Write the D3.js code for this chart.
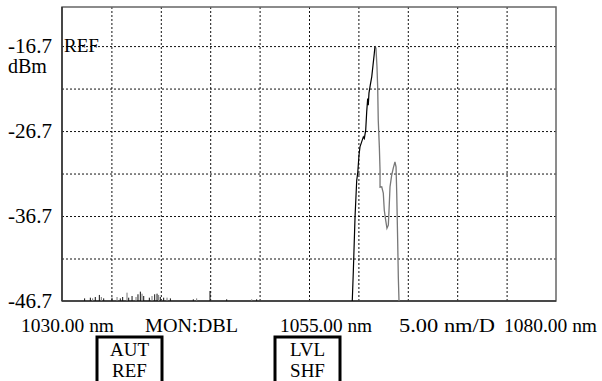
<!DOCTYPE html>
<html>
<head>
<meta charset="utf-8">
<script src="https://cdn.jsdelivr.net/npm/d3@7"></script>
<style>
  body { margin: 0; background: #fff; }
  svg { display: block; }
  text { font-family: "Liberation Serif", "Times New Roman", serif; fill: #000; }
</style>
</head>
<body>
<svg id="chart" width="602" height="381"></svg>
<script>
// spectrum trace (nm, dBm), black rising edge up to the peak
const riseNm = [1059.38, 1059.48, 1059.66, 1059.83, 1059.93, 1060.06, 1060.16, 1060.33, 1060.50, 1060.60,
  1060.74, 1060.84, 1060.94, 1061.00, 1061.07, 1061.20, 1061.35, 1061.48, 1061.61, 1061.68];
const riseDb = [-46.7, -43.44, -36.8, -32.5, -31.66, -29.54, -28.56, -27.97, -27.38, -27.57,
  -26.59, -24.44, -22.86, -23.65, -22.24, -21.29, -20.32, -18.94, -17.56, -16.7];
// grey falling edge from the peak
const fallNm = [1061.68, 1061.78, 1061.88, 1061.95, 1062.01, 1062.12, 1062.19, 1062.19, 1062.36, 1062.52,
  1062.62, 1062.76, 1062.89, 1063.03, 1063.10, 1063.20, 1063.37, 1063.53, 1063.70, 1063.81,
  1063.88, 1063.98, 1064.04, 1064.11];
const fallDb = [-16.7, -16.97, -19.14, -21.49, -25.42, -28.56, -31.31, -33.31, -33.27, -34.01,
  -36.02, -37.19, -38.14, -37.78, -36.02, -33.27, -31.89, -31.07, -30.33, -30.92,
  -34.01, -39.9, -43.87, -46.7];
// noise spikes near the floor
const noiseNm = [1032.29, 1032.87, 1033.10, 1033.37, 1033.78, 1033.98, 1034.22, 1035.06, 1035.57, 1035.90,
  1036.14, 1036.58, 1036.75, 1037.09, 1037.49, 1037.69, 1037.93, 1038.10, 1038.27, 1038.84,
  1039.11, 1039.38, 1039.62, 1039.78, 1039.95, 1040.29, 1040.63, 1040.97, 1043.29, 1043.63,
  1044.98, 1046.67, 1049.2, 1049.7];
const noiseDb = [-46.39, -46.31, -46.39, -46.23, -45.99, -46.23, -46.39, -46.31, -46.23, -46.39,
  -46.23, -45.72, -46.31, -46.11, -46.23, -45.91, -45.6, -45.84, -46.11, -46.31,
  -46.11, -45.91, -45.84, -45.99, -46.23, -46.31, -46.31, -46.39, -46.5, -46.39,
  -45.52, -46.5, -46.5, -46.5];

const xDomain = [1030, 1080];
const yDomain = [-46.7, -12.1];
const nmStep = 5;
const dbStep = 5;
const yLabels = ["-16.7", "-26.7", "-36.7", "-46.7"];
const footerLabels = ["1030.00 nm", "MON:DBL", "1055.00 nm", "5.00 nm/D", "1080.00 nm"];
const softKeys = [["AUT", "REF"], ["LVL", "SHF"]];

const svg = d3.select("#chart");
const plot = { left: 62, right: 556, top: 7, bottom: 301 };

const x = d3.scaleLinear().domain(xDomain).range([plot.left, plot.right]);
const y = d3.scaleLinear().domain(yDomain).range([plot.bottom, plot.top]);

const xGrid = d3.range(xDomain[0] + nmStep, xDomain[1], nmStep);
const yGrid = d3.range(yDomain[0] + dbStep, -16.6, dbStep);

// dotted grid
svg.append("g")
  .attr("transform", `translate(0,${plot.bottom})`)
  .call(d3.axisBottom(x).tickValues(xGrid).tickSize(-(plot.bottom - plot.top)).tickFormat(""))
  .call(g => g.select(".domain").remove())
  .selectAll("line")
  .attr("stroke", "#111")
  .attr("stroke-dasharray", "2,2");

svg.append("g")
  .attr("transform", `translate(${plot.left},0)`)
  .call(d3.axisLeft(y).tickValues(yGrid).tickSize(-(plot.right - plot.left)).tickFormat(""))
  .call(g => g.select(".domain").remove())
  .selectAll("line")
  .attr("stroke", "#111")
  .attr("stroke-dasharray", "2,2");

// frame
svg.append("rect")
  .attr("x", plot.left).attr("y", plot.top)
  .attr("width", plot.right - plot.left).attr("height", plot.bottom - plot.top)
  .attr("fill", "none")
  .attr("stroke", "#666")
  .attr("stroke-width", 1.5);
svg.append("line")
  .attr("x1", plot.left).attr("x2", plot.left).attr("y1", plot.top).attr("y2", plot.bottom)
  .attr("stroke", "#222").attr("stroke-width", 1.3);
svg.append("line")
  .attr("x1", plot.left).attr("x2", plot.right).attr("y1", plot.bottom).attr("y2", plot.bottom)
  .attr("stroke", "#333").attr("stroke-width", 1.5);

// noise
svg.append("g")
  .selectAll("line")
  .data(noiseNm)
  .join("line")
  .attr("x1", d => x(d)).attr("x2", d => x(d))
  .attr("y1", y(yDomain[0]))
  .attr("y2", (d, i) => y(noiseDb[i]))
  .attr("stroke", (d, i) => i % 3 == 2 ? "#777" : "#111")
  .attr("stroke-width", 1);

const line = d3.line().x(d => x(d[0])).y(d => y(d[1]));

svg.append("path")
  .datum(fallNm.map((d, i) => [d, fallDb[i]]))
  .attr("d", line)
  .attr("fill", "none")
  .attr("stroke", "#777")
  .attr("stroke-width", 1.3);

svg.append("path")
  .datum(riseNm.map((d, i) => [d, riseDb[i]]))
  .attr("d", line)
  .attr("fill", "none")
  .attr("stroke", "#000")
  .attr("stroke-width", 1.2);

// level labels
svg.append("g")
  .selectAll("text")
  .data(yLabels)
  .join("text")
  .attr("x", 8)
  .attr("y", d => y(+d) + 7)
  .attr("font-size", 20)
  .attr("textLength", 44)
  .attr("lengthAdjust", "spacingAndGlyphs")
  .text(d => d);

svg.append("text")
  .attr("x", 8).attr("y", y(-16.7) + 27)
  .attr("font-size", 20)
  .text("dBm");

svg.append("text")
  .attr("x", 64).attr("y", y(-16.7) + 6)
  .attr("font-size", 19)
  .text("REF");

// footer row
const footerX = [21, 145, 280, 399, 504];
const footerW = [93, 93, 92, 96, 93];
svg.append("g")
  .selectAll("text")
  .data(footerLabels)
  .join("text")
  .attr("x", (d, i) => footerX[i])
  .attr("y", 332)
  .attr("font-size", 19)
  .attr("textLength", (d, i) => footerW[i])
  .attr("lengthAdjust", "spacingAndGlyphs")
  .text(d => d);

// soft key boxes
const keyX = [97, 275];
const keys = svg.append("g")
  .selectAll("g")
  .data(softKeys)
  .join("g")
  .attr("transform", (d, i) => `translate(${keyX[i]},337)`);

keys.append("rect")
  .attr("width", 65).attr("height", 48)
  .attr("fill", "none")
  .attr("stroke", "#000")
  .attr("stroke-width", 3);

keys.selectAll("text")
  .data(d => d)
  .join("text")
  .attr("x", 32.5)
  .attr("y", (d, i) => 19 + i * 21)
  .attr("text-anchor", "middle")
  .attr("font-size", 19)
  .text(d => d);
</script>
</body>
</html>
